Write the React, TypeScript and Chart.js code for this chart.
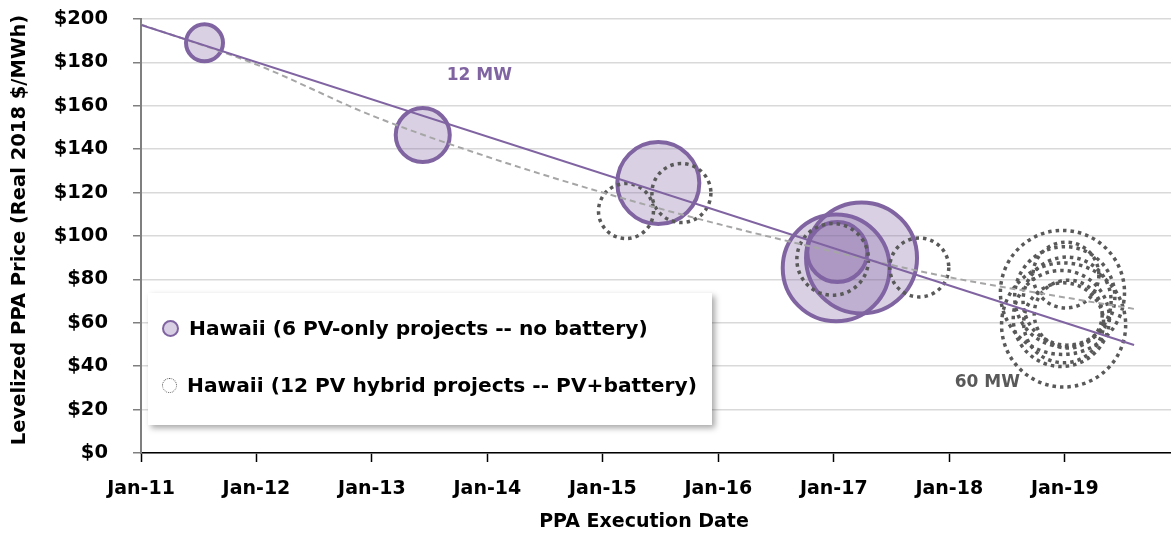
import React, { useEffect, useRef } from "react";
import { Chart, registerables } from "chart.js";

Chart.register(...registerables);

// ---- data ----
const pvDates = [2011.55, 2013.44, 2015.48, 2017.02, 2017.03, 2017.24];
const pvPrices = [189, 146.5, 124.4, 85.3, 92.6, 89.9];
const pvMW = [12, 25.6, 59, 100, 31.6, 108];

const hybridDates = [2015.2, 2015.68, 2016.99, 2017.74, 2018.98, 2018.99, 2019.0, 2018.97, 2019.02, 2018.99, 2019.01, 2019.03];
const hybridPrices = [111.5, 119.8, 89.2, 85.5, 74, 59, 72, 62, 70, 60, 82, 64];
const hybridMW = [26.5, 30.5, 45, 30.5, 135, 135, 88, 81, 68, 56, 38, 40.5];

// trend lines
const pvTrendX = [2011.0, 2019.6];
const pvTrendY = [197.3, 49.8];
const hybridTrendX = [2011, 2012, 2013, 2014, 2015, 2016, 2017, 2018, 2019, 2019.6];
const hybridTrendY = [197.5, 179, 155.5, 136.5, 120, 105.5, 92.7, 81, 71.7, 66.4];

const xTickYears = [2011, 2012, 2013, 2014, 2015, 2016, 2017, 2018, 2019];
const yTickValues = [0, 20, 40, 60, 80, 100, 120, 140, 160, 180, 200];

const legendLabels = [
  "Hawaii (6 PV-only projects -- no battery)",
  "Hawaii (12 PV hybrid projects -- PV+battery)",
];
const annotations = [
  { text: "12 MW", x: 2013.93, y: 174, color: "#8064a2" },
  { text: "60 MW", x: 2018.33, y: 32.3, color: "#595959" },
];

const PURPLE = "#8064a2";
const PURPLE_FILL = "rgba(128,100,162,0.3)";
const DOT = "#595959";
const FONT = "'DejaVu Sans', 'Open Sans', sans-serif";
const RADIUS_PER_SQRT_MW = 5.34;

const toRadius = (mw: number) => RADIUS_PER_SQRT_MW * Math.sqrt(mw);

const dottedPlugin = {
  id: "dotted",
  beforeDatasetDraw(chart: any, args: any) {
    if (chart.data.datasets[args.index].dotted) {
      chart.ctx.save();
      chart.ctx.setLineDash([3.5, 4]);
    }
  },
  afterDatasetDraw(chart: any, args: any) {
    if (chart.data.datasets[args.index].dotted) {
      chart.ctx.restore();
    }
  },
};

const textPlugin = {
  id: "texts",
  afterDraw(chart: any) {
    const { ctx, scales } = chart;
    ctx.save();
    ctx.textAlign = "center";
    ctx.textBaseline = "middle";
    ctx.font = `bold 17px ${FONT}`;
    annotations.forEach((a) => {
      ctx.fillStyle = a.color;
      ctx.fillText(a.text, scales.x.getPixelForValue(a.x), scales.y.getPixelForValue(a.y));
    });
    // axis titles
    ctx.fillStyle = "#000";
    ctx.font = `bold 19px ${FONT}`;
    ctx.fillText("PPA Execution Date", 644, 522);
    ctx.font = `bold 19.5px ${FONT}`;
    ctx.translate(20, 230);
    ctx.rotate(-Math.PI / 2);
    ctx.fillText("Levelized PPA Price (Real 2018 $/MWh)", 0, 0);
    ctx.restore();
  },
};

export default function App() {
  const ref = useRef<HTMLCanvasElement | null>(null);

  useEffect(() => {
    if (!ref.current) return;
    const chart = new Chart(ref.current, {
      type: "bubble",
      data: {
        datasets: [
          {
            type: "line",
            label: "pv trend",
            data: pvTrendX.map((x, i) => ({ x, y: pvTrendY[i] })),
            borderColor: PURPLE,
            borderWidth: 2,
            pointRadius: 0,
            fill: false,
          } as any,
          {
            type: "line",
            label: "hybrid trend",
            data: hybridTrendX.map((x, i) => ({ x, y: hybridTrendY[i] })),
            borderColor: "#a6a6a6",
            borderWidth: 2,
            borderDash: [6, 4],
            cubicInterpolationMode: "monotone",
            pointRadius: 0,
            fill: false,
          } as any,
          {
            label: legendLabels[1],
            dotted: true,
            data: hybridDates.map((x, i) => ({ x, y: hybridPrices[i], r: toRadius(hybridMW[i]) })),
            backgroundColor: "rgba(0,0,0,0)",
            borderColor: DOT,
            borderWidth: 3.5,
            hoverRadius: 0,
          } as any,
          {
            label: legendLabels[0],
            data: pvDates.map((x, i) => ({ x, y: pvPrices[i], r: toRadius(pvMW[i]) })),
            backgroundColor: PURPLE_FILL,
            borderColor: PURPLE,
            borderWidth: 4,
            hoverRadius: 0,
          } as any,
        ],
      },
      options: {
        animation: false,
        responsive: true,
        maintainAspectRatio: false,
        layout: { autoPadding: false, padding: { top: 19, left: 0, right: 0, bottom: 0 } },
        plugins: { legend: { display: false }, tooltip: { enabled: false } },
        scales: {
          x: {
            type: "linear",
            min: 2011,
            max: 2019.92,
            afterFit: (s: any) => {
              s.height = 88;
              s.paddingLeft = 0;
              s.paddingRight = 0;
            },
            afterBuildTicks: (s: any) => {
              s.ticks = xTickYears.map((v) => ({ value: v }));
            },
            ticks: {
              callback: (v: any) => "Jan-" + String(Math.round(v) - 2000),
              font: { family: FONT, size: 19, weight: "bold" },
              color: "#000",
              padding: 16,
              maxRotation: 0,
              autoSkip: false,
            },
            grid: {
              drawOnChartArea: false,
              drawTicks: true,
              tickLength: 9,
              tickColor: "#000",
              tickWidth: 1.5,
            },
            border: { color: "#000", width: 1.5 },
          },
          y: {
            type: "linear",
            min: 0,
            max: 200,
            afterFit: (s: any) => {
              s.width = 141;
              s.paddingTop = 0;
              s.paddingBottom = 0;
            },
            afterBuildTicks: (s: any) => {
              s.ticks = yTickValues.map((v) => ({ value: v }));
            },
            ticks: {
              callback: (v: any) => "$" + v,
              font: { family: FONT, size: 19.5, weight: "bold" },
              color: "#000",
              padding: 25,
            },
            grid: {
              color: "#d9d9d9",
              lineWidth: 1.5,
              tickColor: "#7f7f7f",
              tickLength: 8,
            },
            border: { color: "#7f7f7f", width: 2 },
          },
        },
      },
      plugins: [dottedPlugin, textPlugin],
    } as any);
    return () => chart.destroy();
  }, []);

  return (
    <div style={{ position: "fixed", left: 0, top: 0, width: 1171, height: 541, background: "#fff" }}>
      <canvas ref={ref} />
      <div
        style={{
          position: "absolute",
          left: 148,
          top: 293,
          width: 564,
          height: 132,
          background: "#fff",
          boxShadow: "3px 3px 6px rgba(0,0,0,0.35)",
          fontFamily: FONT,
          fontWeight: "bold",
          fontSize: 20.2,
          color: "#000",
        }}
      >
        <div style={{ position: "absolute", left: 14, top: 23, display: "flex", alignItems: "center", whiteSpace: "nowrap" }}>
          <span
            style={{
              display: "inline-block",
              width: 13,
              height: 13,
              borderRadius: "50%",
              background: "#d9cfe4",
              border: `2px solid ${PURPLE}`,
              marginRight: 10,
            }}
          />
          {legendLabels[0]}
        </div>
        <div style={{ position: "absolute", left: 14, top: 80, display: "flex", alignItems: "center", whiteSpace: "nowrap" }}>
          <span
            style={{
              display: "inline-block",
              width: 13,
              height: 13,
              borderRadius: "50%",
              border: `1.5px dotted ${DOT}`,
              marginRight: 10,
            }}
          />
          {legendLabels[1]}
        </div>
      </div>
    </div>
  );
}
